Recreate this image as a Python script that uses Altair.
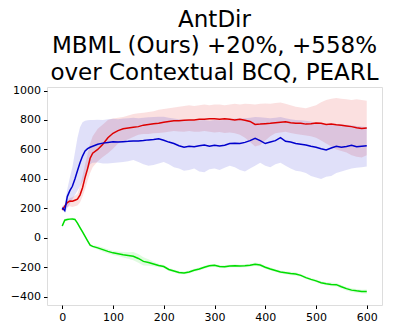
import altair as alt
import pandas as pd

steps = list(range(0, 61, 5)) + list(range(70, 601, 10))

red_mean = [190, 215, 240, 250, 248, 255, 262, 290, 340, 410, 470, 540, 575,
            600, 635, 680, 710, 728, 740, 745, 750, 755, 765,
            770, 775, 778, 785, 790, 795, 795, 798, 800, 800,
            805, 805, 808, 808, 805, 808, 805, 800, 805, 798,
            790, 770, 772, 775, 778, 782, 785, 788, 782, 778,
            778, 772, 775, 780, 778, 770, 772, 768, 765, 760,
            755, 748, 742, 745]
red_hi = [200, 225, 250, 270, 275, 285, 300, 350, 420, 500, 570, 640, 690,
          740, 770, 800, 810, 815, 820, 830, 840, 845, 850,
          855, 860, 870, 875, 880, 885, 890, 895, 900, 895,
          900, 905, 900, 905, 905, 900, 905, 910, 905, 910,
          908, 905, 910, 912, 910, 915, 918, 910, 900, 890,
          885, 880, 890, 900, 920, 935, 945, 950, 945, 940,
          935, 940, 935, 930]
red_lo = [180, 195, 210, 215, 210, 215, 220, 240, 280, 330, 390, 440, 480,
          520, 548, 575, 605, 640, 655, 670, 685, 700, 705,
          705, 710, 712, 715, 720, 725, 722, 720, 725, 720,
          720, 725, 720, 715, 718, 712, 715, 710, 700, 680,
          650, 620, 630, 660, 690, 710, 715, 720, 712, 705,
          700, 695, 690, 680, 660, 640, 620, 600, 590, 580,
          560, 550, 545, 560]

blue_mean = [205, 185, 280, 320, 350, 400, 455, 510, 555, 590, 605, 615, 622,
             635, 643, 648, 652, 650, 653, 655, 658, 658, 660,
             665, 668, 672, 662, 650, 640, 625, 615, 622, 618,
             625, 630, 622, 628, 624, 628, 640, 642, 640, 648,
             660, 675, 660, 640, 650, 660, 680, 655, 650, 640,
             635, 630, 622, 615, 605, 597, 610, 622, 615, 620,
             628, 618, 622, 625]
blue_hi = [215, 230, 330, 410, 480, 580, 680, 750, 785, 795, 798, 800, 800,
           802, 800, 805, 808, 805, 810, 812, 815, 812, 815,
           818, 820, 822, 822, 815, 810, 805, 800, 800, 795,
           798, 800, 795, 800, 798, 800, 805, 810, 810, 812,
           815, 820, 818, 815, 812, 815, 820, 812, 805, 800,
           798, 795, 790, 780, 775, 770, 770, 772, 770, 768,
           765, 760, 755, 750]
blue_lo = [195, 170, 200, 230, 260, 290, 320, 350, 380, 420, 460, 500, 510,
           512, 505, 505, 508, 512, 515, 520, 528, 515, 500,
           490, 495, 505, 515, 500, 480, 470, 455, 460, 470,
           450, 445, 465, 470, 460, 475, 490, 480, 460, 450,
           470, 490, 510, 490, 480, 500, 510, 490, 470, 455,
           450, 440, 420, 410, 400, 415, 420, 440, 450, 460,
           470, 475, 480, 485]

green_mean = [80, 120, 125, 127, 128, 125, 100, 70, 40, 10, -20, -50, -58,
              -68, -80, -92, -102, -108, -115, -120, -125, -140, -160,
              -168, -178, -188, -195, -215, -225, -235, -238, -232, -220,
              -212, -200, -190, -187, -195, -196, -192, -190, -192, -190,
              -186, -180, -185, -200, -212, -222, -232, -237, -242, -245,
              -255, -270, -282, -292, -305, -312, -316, -318, -332, -345,
              -355, -360, -364, -365]
green_spread = [12, 10, 8, 8, 8, 8, 8, 8, 8, 8, 8, 8, 10,
                12, 15, 15, 15, 15, 18, 22, 28, 30, 28,
                22, 15, 12, 10, 10, 10, 10, 10, 10, 10,
                10, 10, 10, 10, 10, 10, 10, 10, 10, 10,
                10, 12, 12, 10, 10, 10, 10, 10, 12, 12,
                10, 10, 10, 10, 10, 10, 12, 12, 12, 12,
                12, 12, 12, 14]

x_ticks = [0, 100, 200, 300, 400, 500, 600]
y_ticks = [-400, -200, 0, 200, 400, 600, 800, 1000]

series_names = ["MBML (Ours)", "Contextual BCQ", "PEARL"]
series_colors = ["#dd0000", "#0000cc", "#00dd00"]

rows = []
for name, mean, lo, hi in [
    ("MBML (Ours)", red_mean, red_lo, red_hi),
    ("Contextual BCQ", blue_mean, blue_lo, blue_hi),
    ("PEARL", green_mean,
     [m - s for m, s in zip(green_mean, green_spread)],
     [m + s for m, s in zip(green_mean, green_spread)]),
]:
    for st, m, l, h in zip(steps, mean, lo, hi):
        rows.append({"step": st, "series": name, "mean": m, "lo": l, "hi": h})
df = pd.DataFrame(rows)

xs = alt.Scale(domain=[-30, 630], nice=False, zero=False)
ys = alt.Scale(domain=[-456, 1024], nice=False, zero=False)
cs = alt.Scale(domain=series_names, range=series_colors)


def make_axis(vals):
    return alt.Axis(values=vals, title=None, grid=False, domain=False,
                    tickColor="black", tickSize=3.5, labelPadding=3,
                    labelFontSize=11, labelColor="black",
                    labelFont="DejaVu Sans", labelOverlap=False,
                    labelFlush=False, format="d")


base = alt.Chart(df)

bands = base.mark_area(opacity=0.12).encode(
    x=alt.X("step:Q", scale=xs, axis=make_axis(x_ticks)),
    y=alt.Y("lo:Q", scale=ys, axis=make_axis(y_ticks)),
    y2="hi:Q",
    color=alt.Color("series:N", scale=cs, legend=None),
    detail="series:N",
)

lines = base.mark_line(strokeWidth=1.5).encode(
    x=alt.X("step:Q", scale=xs, axis=make_axis(x_ticks)),
    y=alt.Y("mean:Q", scale=ys, axis=make_axis(y_ticks)),
    color=alt.Color("series:N", scale=cs, legend=None),
    detail="series:N",
)

chart = alt.layer(bands, lines).resolve_axis(x="shared", y="shared").properties(
    width=335,
    height=218,
    title=alt.TitleParams(
        text=["AntDir", "MBML (Ours) +20%, +558%", "over Contextual BCQ, PEARL"],
        fontSize=23,
        font="DejaVu Sans",
        fontWeight="normal",
        color="black",
        anchor="middle",
        lineHeight=26.5,
        offset=0,
    ),
    autosize=alt.AutoSizeParams(type="none"),
    padding={"left": 39, "top": 79, "right": 4, "bottom": 20},
).configure_view(stroke="black", strokeWidth=1).configure(background="white")

chart.save("out.html", embed_options={"renderer": "svg", "actions": False})
